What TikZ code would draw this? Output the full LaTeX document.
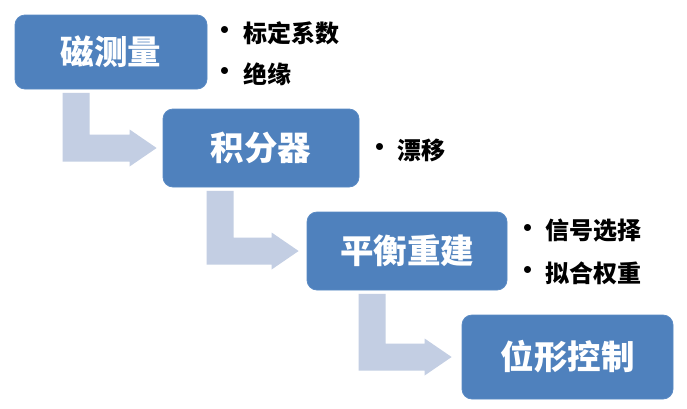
\documentclass[tikz,border=0pt]{standalone}
\usepackage{fontspec}
\setmainfont{Noto Sans CJK SC}
\usetikzlibrary{calc}
\definecolor{boxblue}{HTML}{4F81BD}
\definecolor{boxedge}{HTML}{5A8AC4}
\definecolor{arrowfill}{HTML}{C3CEE3}
\tikzset{
  stage/.style={draw=boxedge, line width=0.8pt, fill=boxblue, rounded corners=10pt,
    inner sep=0pt, text=white, font=\bfseries\fontsize{33.5}{36}\selectfont},
  bul/.style={inner sep=0pt, font=\bfseries\fontsize{25}{27}\selectfont},
  item/.style={inner sep=0pt, anchor=west, font=\bfseries\fontsize{24}{26}\selectfont},
}
% bent arrow from node #1 to node #2; #3 = x offset of shaft from left of #1, #4 = gap before #2
\newcommand\bentarrow[4]{%
  \fill[arrowfill] let \p1=(#1.south west), \p2=(#2.west) in
    (\x1+#3pt, \y1-3.5pt) -- (\x1+#3pt+27pt, \y1-3.5pt) -- (\x1+#3pt+27pt, \y2+13.5pt)
    -- (\x2-#4pt-27pt, \y2+13.5pt) -- (\x2-#4pt-27pt, \y2+18.5pt) -- (\x2-#4pt, \y2)
    -- (\x2-#4pt-27pt, \y2-18.5pt) -- (\x2-#4pt-27pt, \y2-13.5pt) -- (\x1+#3pt, \y2-13.5pt) -- cycle;}
\begin{document}
\begin{tikzpicture}[x=1pt, y=-1pt]
\useasboundingbox[fill=white] (0,0) rectangle (687,408);
\node[stage, minimum width=192pt, minimum height=74pt] (b1) at (111,52) {磁测量};
\node[stage, minimum width=196pt, minimum height=78pt] (b2) at (261,148) {积分器};
\node[stage, minimum width=200pt, minimum height=78pt] (b3) at (407,251) {平衡重建};
\node[stage, minimum width=211pt, minimum height=84pt] (b4) at (567.5,357) {位形控制};
\bentarrow{b1}{b2}{48}{6}
\bentarrow{b2}{b3}{44}{8}
\bentarrow{b3}{b4}{52}{10}
\node[bul] (d1) at (225,33) {•};
\node[item] (t1) at (243,33) {标定系数};
\node[bul] (d2) at (225,74) {•};
\node[item] (t2) at (243,74) {绝缘};
\node[bul] (d3) at (380,150) {•};
\node[item] (t3) at (397,150) {漂移};
\node[bul] (d4) at (528,231) {•};
\node[item] (t4) at (545,231) {信号选择};
\node[bul] (d5) at (528,273) {•};
\node[item] (t5) at (545,273) {拟合权重};
\end{tikzpicture}
\end{document}
